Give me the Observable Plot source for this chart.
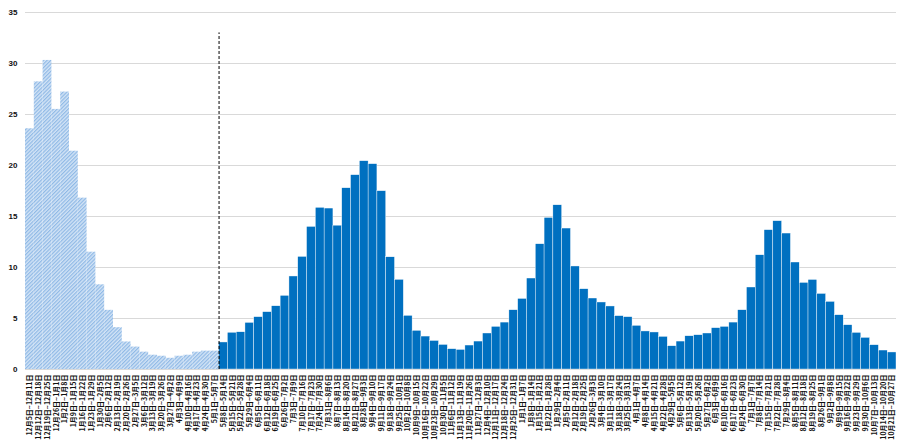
<!DOCTYPE html>
<html><head><meta charset="utf-8">
<script src="https://cdn.jsdelivr.net/npm/d3@7"></script>
<script src="https://cdn.jsdelivr.net/npm/@observablehq/plot@0.6"></script>
<style>body{margin:0;background:#fff;}</style>
</head><body><div id="chart"></div>
<script>
const weeks = [
"12月5日~12月11日","12月12日~12月18日","12月19日~12月25日","12月26日~1月1日","1月2日~1月8日",
"1月9日~1月15日","1月16日~1月22日","1月23日~1月29日","1月30日~2月5日","2月6日~2月12日",
"2月13日~2月19日","2月20日~2月26日","2月27日~3月5日","3月6日~3月12日","3月13日~3月19日",
"3月20日~3月26日","3月27日~4月2日","4月3日~4月9日","4月10日~4月16日","4月17日~4月23日",
"4月24日~4月30日","5月1日~5月7日","5月8日~5月14日","5月15日~5月21日","5月22日~5月28日",
"5月29日~6月4日","6月5日~6月11日","6月12日~6月18日","6月19日~6月25日","6月26日~7月2日",
"7月3日~7月9日","7月10日~7月16日","7月17日~7月23日","7月24日~7月30日","7月31日~8月6日",
"8月7日~8月13日","8月14日~8月20日","8月21日~8月27日","8月28日~9月3日","9月4日~9月10日",
"9月11日~9月17日","9月18日~9月24日","9月25日~10月1日","10月2日~10月8日","10月9日~10月15日",
"10月16日~10月22日","10月23日~10月29日","10月30日~11月5日","11月6日~11月12日","11月13日~11月19日",
"11月20日~11月26日","11月27日~12月3日","12月4日~12月10日","12月11日~12月17日","12月18日~12月24日",
"12月25日~12月31日","1月1日~1月7日","1月8日~1月14日","1月15日~1月21日","1月22日~1月28日",
"1月29日~2月4日","2月5日~2月11日","2月12日~2月18日","2月19日~2月25日","2月26日~3月3日",
"3月4日~3月10日","3月11日~3月17日","3月18日~3月24日","3月25日~3月31日","4月1日~4月7日",
"4月8日~4月14日","4月15日~4月21日","4月22日~4月28日","4月29日~5月5日","5月6日~5月12日",
"5月13日~5月19日","5月20日~5月26日","5月27日~6月2日","6月3日~6月9日","6月10日~6月16日",
"6月17日~6月23日","6月24日~6月30日","7月1日~7月7日","7月8日~7月14日","7月15日~7月21日",
"7月22日~7月28日","7月29日~8月4日","8月5日~8月11日","8月12日~8月18日","8月19日~8月25日",
"8月26日~9月1日","9月2日~9月8日","9月9日~9月15日","9月16日~9月22日","9月23日~9月29日",
"9月30日~10月6日","10月7日~10月13日","10月14日~10月20日","10月21日~10月27日"
];
const values = [
23.6,28.2,30.3,25.5,27.2,21.4,16.8,11.5,8.3,5.8,
4.1,2.7,2.2,1.7,1.4,1.3,1.1,1.3,1.4,1.7,
1.8,1.8,2.65,3.6,3.65,4.57,5.13,5.62,6.2,7.22,
9.12,11.04,13.98,15.85,15.78,14.1,17.77,19.05,20.42,20.13,
17.48,11.0,8.79,5.26,3.79,3.23,2.8,2.41,1.99,1.92,
2.35,2.74,3.53,4.18,4.6,5.81,6.92,8.92,12.28,14.86,
16.1,13.82,10.1,7.87,6.96,6.57,6.18,5.23,5.13,4.28,
3.73,3.63,3.2,2.28,2.74,3.26,3.36,3.53,4.05,4.18,
4.6,5.81,8.04,11.2,13.66,14.54,13.33,10.49,8.49,8.78,
7.41,6.63,5.32,4.34,3.59,3.1,2.38,1.86,1.67
];
const yTicks = [0,5,10,15,20,25,30,35];
const splitWeek = "5月8日~5月14日";
const splitLineTop = 33;

const splitIndex = weeks.indexOf(splitWeek);
const rows = weeks.map((w,i)=>({week:w, value:values[i], before: i < splitIndex}));

const W = 897, H = 443, mL = 25, mR = 1;
const bw = (W - mL - mR) / weeks.length;

const chart = Plot.plot({
  width: W, height: H,
  marginLeft: mL, marginRight: mR, marginTop: 12, marginBottom: 74,
  style: {fontFamily: "'Noto Sans CJK JP', 'Liberation Sans', sans-serif", background: "#fff", color: "#111"},
  x: {domain: weeks, padding: 0, label: null},
  y: {domain: [0, 35], label: null},
  marks: [
    Plot.gridY(yTicks, {stroke: "#d9d9d9", strokeOpacity: 1}),
    Plot.barY(rows.filter(d => d.before), {x: "week", y: "value", fill: "url(#hatch)"}),
    Plot.barY(rows.filter(d => !d.before), {x: "week", y: "value", fill: "#0070C0", stroke: "#fff", strokeWidth: 0.4}),
    Plot.ruleX([splitWeek], {y1: 0, y2: splitLineTop, dx: -bw/2, stroke: "#000", strokeDasharray: "3,2", strokeWidth: 1}),
    Plot.axisY(yTicks, {tickSize: 0, tickPadding: 8, fontSize: 8, fontWeight: "bold", label: null, fontFamily: "'Liberation Sans', Arial, sans-serif"}),
    Plot.axisX(weeks, {tickSize: 0, tickRotate: -90, fontSize: 7, tickPadding: 5, fontWeight: "bold", label: null})
  ]
});

const svg = chart.tagName.toLowerCase() === "svg" ? chart : chart.querySelector("svg");
const ns = "http://www.w3.org/2000/svg";
const defs = document.createElementNS(ns, "defs");
defs.innerHTML = `<pattern id="hatch" patternUnits="userSpaceOnUse" width="2.6" height="2.6" patternTransform="rotate(45)">
  <rect width="2.6" height="2.6" fill="#d3e4f6"></rect>
  <rect width="1.2" height="2.6" fill="#8fb9e6"></rect>
</pattern>`;
svg.insertBefore(defs, svg.firstChild);
document.getElementById("chart").appendChild(chart);
</script>
</body></html>
